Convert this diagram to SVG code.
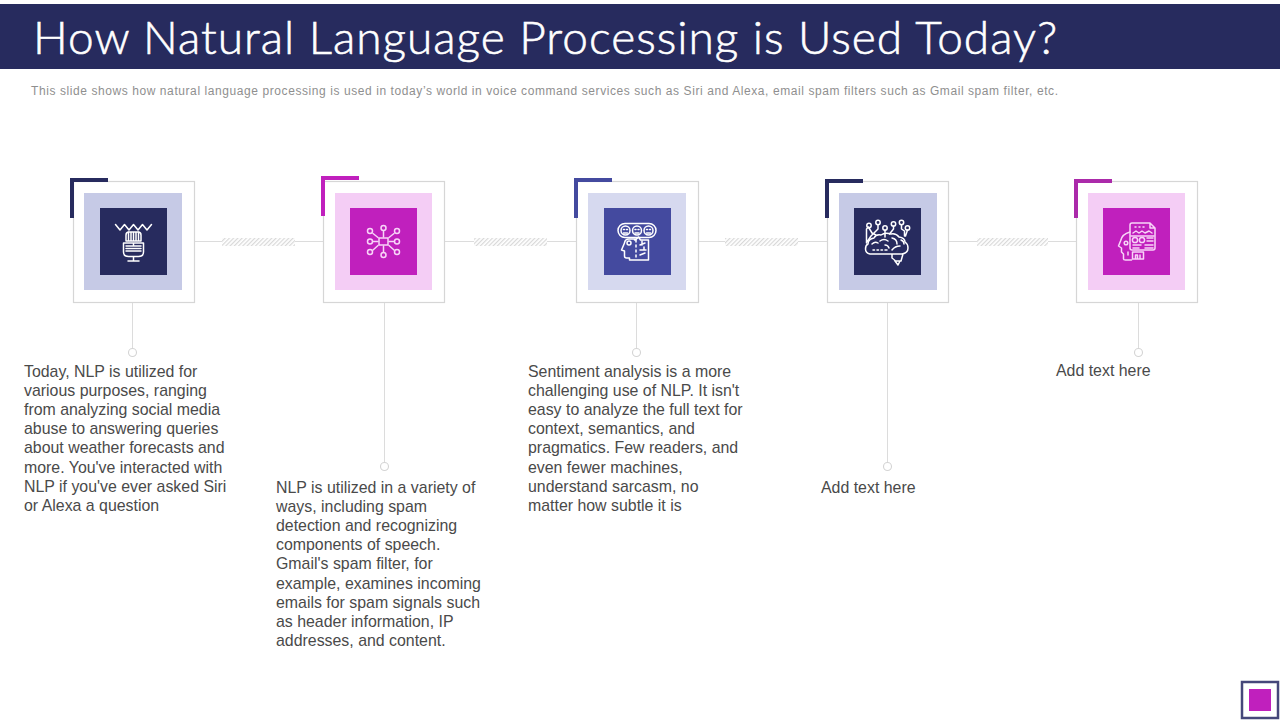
<svg xmlns="http://www.w3.org/2000/svg" width="1280" height="720" viewBox="0 0 1280 720">
<style>
.frame{fill:#fff;stroke:#d6d6d6;stroke-width:1.2}
.ln{fill:none;stroke:#dcdcdc;stroke-width:1}
.dot{fill:#fff;stroke:#d4d4d4;stroke-width:1.1}
.body{font-family:"Liberation Sans",Arial,sans-serif;font-size:15.9px;fill:#4a4a4a}
.ic{fill:none;stroke:#fff;stroke-width:1.5;stroke-linejoin:round;stroke-linecap:round}
.icp{fill:none;stroke:#f8d4f8;stroke-width:1.5;stroke-linejoin:round;stroke-linecap:round}
.navy{fill:#272b5e}.mag{fill:#c020bd}.blue{fill:#444a9f}
.lb{fill:#c6cae6}.lp{fill:#f4cdf5}.lb2{fill:#d6d9ef}
</style>
<defs>
<pattern id="hatch" width="3" height="3" patternUnits="userSpaceOnUse" patternTransform="rotate(45)">
<rect width="3" height="3" fill="#fff"/><rect width="1.2" height="3" fill="#d8d8d8"/>
</pattern>
</defs>
<rect width="1280" height="720" fill="#fff"/>
<g id="header">
<rect x="0" y="4" width="1280" height="65" class="navy"/>
<text x="33" y="54" font-family="Lato,'Liberation Sans',sans-serif" font-weight="300" font-size="46" fill="#fff" stroke="#fff" stroke-width="0.6" textLength="1024" lengthAdjust="spacing">How Natural Language Processing is Used Today?</text>
<text x="31" y="95" font-family="'Liberation Sans',Arial,sans-serif" font-size="12" fill="#8f8f8f" textLength="1027" lengthAdjust="spacing">This slide shows how natural language processing is used in today’s world in voice command services such as Siri and Alexa, email spam filters such as Gmail spam filter, etc.</text>
</g>
<g id="connectors">
<path class="ln" d="M195 241.500H222M295 241.500H323M445 241.500H474M547 241.500H576M699 241.500H725M798 241.500H827M949 241.500H977M1048 241.500H1076"/>
<rect x="222" y="238" width="73" height="8" fill="url(#hatch)"/>
<rect x="474" y="238" width="73" height="8" fill="url(#hatch)"/>
<rect x="725" y="238" width="73" height="8" fill="url(#hatch)"/>
<rect x="977" y="238" width="71" height="8" fill="url(#hatch)"/>
<path class="ln" d="M132.500 302V348M384.500 302V462M636.500 302V348M887.500 302V462M1138.500 302V348"/>
<circle class="dot" cx="132.500" cy="352.500" r="4"/>
<circle class="dot" cx="384.500" cy="466.500" r="4"/>
<circle class="dot" cx="636.500" cy="352.500" r="4"/>
<circle class="dot" cx="887.500" cy="466.500" r="4"/>
<circle class="dot" cx="1138.500" cy="352.500" r="4"/>
</g>
<g id="node1">
<rect class="frame" x="73.500" y="181.500" width="121" height="121"/>
<path class="navy" d="M70 178H108V182H74V218H70Z"/>
<rect class="lb" x="84" y="193" width="98" height="97"/>
<rect class="navy" x="100" y="208" width="67" height="67"/>
<g class="ic">
<path d="M115.500 224.500l4.500 5.500 4.500-5.500 4.500 5.500 4.500-5.500 4.500 5.500 4.500-5.500 4.500 5.500 4.500-5.500"/>
<path d="M126 241v-6q0-3 3-3h9q3 0 3 3v6zM128.500 232v9M131 232v9M133.500 232v9M136 232v9M138.500 232v9"/>
<path d="M123.500 243h20v9q0 4.500-5 4.500h-10q-5 0-5-4.500zM126 246h15M126 248.500h15M126 251h15M133.500 243v3M133.500 257v4M128 261h11"/>
</g>
<text class="body"><tspan x="24" y="377">Today, NLP is utilized for</tspan><tspan x="24" y="396">various purposes, ranging</tspan><tspan x="24" y="415">from analyzing social media</tspan><tspan x="24" y="434">abuse to answering queries</tspan><tspan x="24" y="453">about weather forecasts and</tspan><tspan x="24" y="473">more. You've interacted with</tspan><tspan x="24" y="492">NLP if you've ever asked Siri</tspan><tspan x="24" y="511">or Alexa a question</tspan></text>
</g>
<g id="node2">
<rect class="frame" x="323.500" y="181.500" width="121" height="121"/>
<path class="mag" d="M321 176H359V180H325V216H321Z"/>
<rect class="lp" x="335" y="193" width="97" height="97"/>
<rect class="mag" x="350" y="208" width="67" height="67"/>
<g class="icp">
<rect x="379" y="238" width="9" height="7"/>
<circle cx="370" cy="231" r="2.500"/><circle cx="383.500" cy="228" r="2.500"/><circle cx="397" cy="231" r="2.500"/>
<circle cx="370" cy="241.500" r="2.500"/><circle cx="397" cy="241.500" r="2.500"/>
<circle cx="370" cy="252" r="2.500"/><circle cx="383.500" cy="255" r="2.500"/><circle cx="397" cy="252" r="2.500"/>
<path d="M373 233.500l5 4M383.500 231v6M394 233.500l-5 4M373 241.500h5M389 241.500h5M373 250l5-4.500M383.500 246v6M394 250l-5-4.500"/>
</g>
<text class="body"><tspan x="276" y="493">NLP is utilized in a variety of</tspan><tspan x="276" y="512">ways, including spam</tspan><tspan x="276" y="531">detection and recognizing</tspan><tspan x="276" y="550">components of speech.</tspan><tspan x="276" y="569">Gmail's spam filter, for</tspan><tspan x="276" y="589">example, examines incoming</tspan><tspan x="276" y="608">emails for spam signals such</tspan><tspan x="276" y="627">as header information, IP</tspan><tspan x="276" y="646">addresses, and content.</tspan></text>
</g>
<g id="node3">
<rect class="frame" x="576.500" y="181.500" width="122" height="121"/>
<path class="blue" d="M574 178H612V182H578V218H574Z"/>
<rect class="lb2" x="588" y="193" width="98" height="97"/>
<rect class="blue" x="604" y="208" width="67" height="67"/>
<g class="ic">
<rect x="618" y="223.500" width="38" height="14" rx="7"/>
<circle cx="625.500" cy="230.500" r="4.500"/><circle cx="637" cy="230.500" r="4.500"/><circle cx="648.500" cy="230.500" r="4.500"/>
<path d="M623.500 229.500h1M626.500 229.500h1M635 229.500h1M638 229.500h1M646.500 229.500h1M649.500 229.500h1M623.500 233h4M635 233h4M646.500 233h4"/>
<path d="M636 239h-7q-4 0-4.500 4l-3 7 3 1v5q0 2 2 2h3v2h19v-20h-8l-2-3-3 3h-1"/>
<circle cx="629" cy="243" r="2"/>
<path d="M636 240v2M636 245v2M636 250v2M636 255v2M640 245l5-2M640 250h6M640 255l5-2M642 241v4M644 247v3"/>
</g>
<text class="body"><tspan x="528" y="377">Sentiment analysis is a more</tspan><tspan x="528" y="396">challenging use of NLP. It isn't</tspan><tspan x="528" y="415">easy to analyze the full text for</tspan><tspan x="528" y="434">context, semantics, and</tspan><tspan x="528" y="453">pragmatics. Few readers, and</tspan><tspan x="528" y="473">even fewer machines,</tspan><tspan x="528" y="492">understand sarcasm, no</tspan><tspan x="528" y="511">matter how subtle it is</tspan></text>
</g>
<g id="node4">
<rect class="frame" x="827.500" y="181.500" width="121" height="121"/>
<path class="navy" d="M825 179H863V183H829V218H825Z"/>
<rect class="lb" x="839" y="193" width="98" height="97"/>
<rect class="navy" x="854" y="208" width="67" height="67"/>
<g class="ic">
<circle cx="869" cy="225.500" r="2.200"/><circle cx="878" cy="222.500" r="2.200"/><circle cx="885" cy="228" r="2.200"/><circle cx="893.500" cy="224" r="2.200"/><circle cx="901.500" cy="222.500" r="2.200"/><circle cx="907.500" cy="228" r="2.200"/>
<path d="M870 254q-4.500-1-4.500-5 0-4 2.500-5 0-5 6-6 2-4 7-3 4-3 10-1 5-1 8 3 6 1 6 5 3 2 3 6 0 5-6 6h-32M892 254v4q3 2 3 3h6l2-7M895 261l3 4 2-4"/>
<path d="M869 228l3 5 4 2M866.500 243v-14l2-2M878 225v4l-7 7-4 6M885 230v7M893.500 226v3l-4 5M901.500 225v4l3 2v5M907.500 230l-2 6"/>
<path d="M873 250h1.500M877 250h1.500M881 250h1.500M885 250h2M880 241q4-3 8 0M892 238q5 1 5 6M892 250q3-4 8-4M885 245q3 0 4 3M872 244q3-3 6-1M901 240q3 1 3 4"/>
</g>
<text class="body"><tspan x="821" y="493">Add text here</tspan></text>
</g>
<g id="node5">
<rect class="frame" x="1076.500" y="181.500" width="121" height="121"/>
<path d="M1074 179H1112V183H1078V218H1074Z" fill="#ab2aaa"/>
<rect class="lp" x="1088" y="193" width="97" height="97"/>
<rect class="mag" x="1103" y="208" width="67" height="67"/>
<g class="icp">
<path d="M1130 225q0-2 2-2h18l5 5v20q0 2-2 2h-21q-2 0-2-2zM1150 223v5h5"/>
<path d="M1133 233l3-2 3 2 3-2 3 2 4-2 3 2M1131 236h23M1135 227h1M1139 227h1M1143 227h1"/>
<circle cx="1135" cy="240" r="2.600"/><circle cx="1142" cy="240" r="2.600"/>
<path d="M1147 238h6M1147 241h6M1133 245h8M1145 245h8M1133 248h6M1145 248h8"/>
<path d="M1130 232q-8 2-9.500 9l-2 5 3 2v4l2 2v5q0 1 2 1h6M1132.500 252h11v7h-11zM1135.500 258v-3h2v3M1140 255v3M1128 252v3"/>
<circle cx="1126" cy="243" r="1.800"/>
</g>
<text class="body"><tspan x="1056" y="376">Add text here</tspan></text>
</g>
<g id="corner-mark">
<rect x="1242" y="682" width="36" height="36" fill="#fff" stroke="#45477a" stroke-width="2.500"/>
<rect class="mag" x="1249" y="689" width="22" height="22"/>
</g>
</svg>
